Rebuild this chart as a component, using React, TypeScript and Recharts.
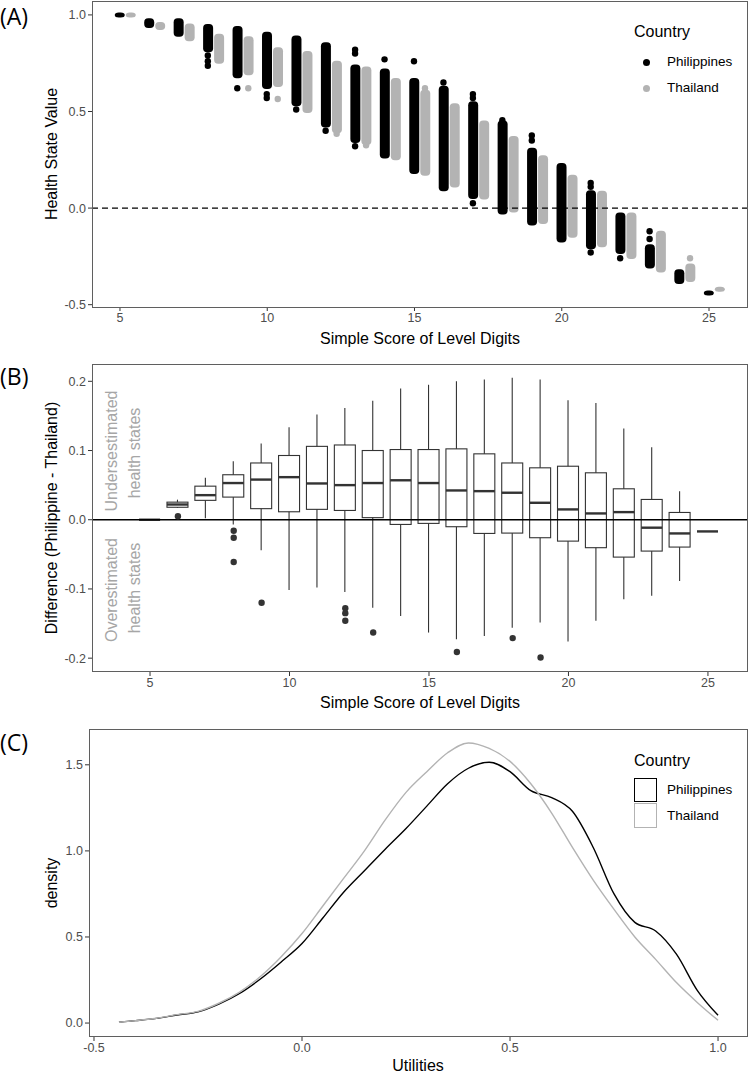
import React from "react";
import {
  ComposedChart,
  LineChart,
  Bar,
  Line,
  Scatter,
  XAxis,
  YAxis,
  ReferenceLine,
} from "recharts";

// ---- panel A: health state values by simple score (range of jittered points)
const scores = [5, 6, 7, 8, 9, 10, 11, 12, 13, 14, 15, 16, 17, 18, 19, 20, 21, 22, 23, 24, 25];
const phLo = [1.0, 0.945, 0.9, 0.82, 0.685, 0.63, 0.54, 0.43, 0.35, 0.27, 0.19, 0.1, 0.06, -0.02, -0.077, -0.165, -0.2, -0.225, -0.3, -0.38, -0.44];
const phHi = [1.0, 0.97, 0.97, 0.94, 0.93, 0.9, 0.88, 0.845, 0.73, 0.71, 0.66, 0.62, 0.54, 0.44, 0.3, 0.22, 0.08, -0.036, -0.2, -0.33, -0.44];
const thLo = [1.0, 0.935, 0.876, 0.76, 0.7, 0.64, 0.505, 0.4, 0.34, 0.26, 0.18, 0.12, 0.057, -0.01, -0.07, -0.14, -0.19, -0.25, -0.32, -0.37, -0.42];
const thHi = [1.0, 0.95, 0.943, 0.89, 0.876, 0.82, 0.8, 0.75, 0.72, 0.66, 0.6, 0.53, 0.44, 0.36, 0.26, 0.16, 0.077, -0.036, -0.13, -0.3, -0.42];
const phOutliers = [
  { score: 8, v: 0.79 }, { score: 8, v: 0.76 }, { score: 8, v: 0.737 },
  { score: 9, v: 0.62 }, { score: 10, v: 0.59 }, { score: 10, v: 0.57 },
  { score: 11, v: 0.51 }, { score: 12, v: 0.4 }, { score: 13, v: 0.82 },
  { score: 13, v: 0.8 }, { score: 13, v: 0.32 }, { score: 14, v: 0.77 },
  { score: 15, v: 0.76 }, { score: 16, v: 0.65 }, { score: 17, v: 0.59 },
  { score: 17, v: 0.57 }, { score: 17, v: 0.025 }, { score: 18, v: 0.455 },
  { score: 19, v: 0.376 }, { score: 19, v: 0.35 }, { score: 21, v: 0.13 },
  { score: 21, v: 0.11 }, { score: 21, v: -0.23 }, { score: 22, v: -0.26 },
  { score: 23, v: -0.12 }, { score: 23, v: -0.16 },
];
const thOutliers = [
  { score: 9, v: 0.62 }, { score: 10, v: 0.565 }, { score: 12, v: 0.385 },
  { score: 13, v: 0.325 }, { score: 15, v: 0.62 }, { score: 24, v: -0.26 },
];

// ---- panel B: boxplot of differences
const boxLo = [0, 0.017, 0.002, -0.007, -0.044, -0.1016, -0.098, -0.1045, -0.127, -0.139, -0.163, -0.1727, -0.168, -0.156, -0.1486, -0.176, -0.146, -0.115, -0.11, -0.0886, -0.0169];
const boxQ1 = [0, 0.018, 0.028, 0.0327, 0.016, 0.0115, 0.015, 0.0134, 0.003, -0.0068, -0.0053, -0.0101, -0.0198, -0.0193, -0.026, -0.0309, -0.0404, -0.054, -0.0453, -0.0395, -0.0169];
const boxMed = [0, 0.022, 0.0355, 0.053, 0.058, 0.0615, 0.0524, 0.05, 0.053, 0.057, 0.053, 0.0423, 0.0413, 0.039, 0.0245, 0.0149, 0.0091, 0.011, -0.0115, -0.0198, -0.0169];
const boxQ3 = [0, 0.0254, 0.0485, 0.065, 0.082, 0.0928, 0.106, 0.108, 0.1, 0.1014, 0.1014, 0.1024, 0.0952, 0.082, 0.075, 0.0773, 0.0678, 0.0447, 0.0293, 0.0105, -0.0169];
const boxHi = [0, 0.029, 0.0606, 0.0846, 0.11, 0.1336, 0.152, 0.1616, 0.172, 0.1895, 0.195, 0.2, 0.2025, 0.205, 0.2025, 0.1726, 0.1688, 0.1317, 0.1048, 0.0413, -0.0169];
const boxOutliers = [
  { score: 6, v: 0.005 }, { score: 8, v: -0.016 }, { score: 8, v: -0.026 },
  { score: 8, v: -0.061 }, { score: 9, v: -0.12 }, { score: 12, v: -0.128 },
  { score: 12, v: -0.135 }, { score: 12, v: -0.146 }, { score: 13, v: -0.163 },
  { score: 16, v: -0.191 }, { score: 18, v: -0.171 }, { score: 19, v: -0.199 },
];

// ---- panel C: density of utilities
const utilities = [-0.44, -0.4, -0.35, -0.3, -0.25, -0.2, -0.15, -0.1, -0.05, 0, 0.05, 0.1, 0.15, 0.2, 0.25, 0.3, 0.35, 0.4, 0.45, 0.5, 0.55, 0.6, 0.65, 0.7, 0.75, 0.8, 0.85, 0.9, 0.95, 1.0];
const densityPh = [0.005, 0.014, 0.027, 0.047, 0.065, 0.11, 0.172, 0.256, 0.355, 0.462, 0.61, 0.76, 0.885, 1.01, 1.13, 1.26, 1.39, 1.48, 1.515, 1.46, 1.35, 1.31, 1.23, 1.02, 0.75, 0.585, 0.535, 0.4, 0.19, 0.045];
const densityTh = [0.005, 0.014, 0.028, 0.049, 0.068, 0.115, 0.18, 0.27, 0.385, 0.52, 0.68, 0.84, 1.0, 1.18, 1.34, 1.46, 1.57, 1.627, 1.595, 1.52, 1.39, 1.22, 1.02, 0.83, 0.66, 0.5, 0.37, 0.235, 0.12, 0.016];

const scatterRows = scores.map((s, i) => ({
  score: s,
  phLo: phLo[i],
  phHi: phHi[i],
  thLo: thLo[i],
  thHi: thHi[i],
}));
const boxRows = scores.map((s, i) => ({
  score: s,
  lo: boxLo[i],
  q1: boxQ1[i],
  med: boxMed[i],
  q3: boxQ3[i],
  hi: boxHi[i],
}));
const densityRows = utilities.map((u, i) => ({ u, ph: densityPh[i], th: densityTh[i] }));

const GRAY = "#b3b3b3";
const FONT = '"Liberation Sans", Arial, sans-serif';
const tickStyle = { fill: "#4d4d4d", fontSize: 12.5 };
const fmt = (v: number) => v.toFixed(1);

// dense column of jittered points, drawn as a rounded strip
const columnShape = (fill: string) => (props: any) => {
  const { x, y, width, height } = props;
  const top = Math.min(y, y + height) - 2.5;
  const h = Math.abs(height) + 5;
  return <rect x={x + 5.5} y={top} width={width - 1} height={h} rx={4} ry={4} fill={fill} />;
};

const pointShape = (fill: string, dx: number) => (props: any) => (
  <circle cx={props.cx + dx} cy={props.cy} r={3.2} fill={fill} />
);

const BoxShape = (props: any) => {
  const { x, y, width, height, payload } = props;
  const top = Math.min(y, y + height);
  const bot = Math.max(y, y + height);
  const span = payload.hi - payload.lo;
  const cx = x + width / 2;
  if (!(span > 0)) {
    return <line x1={x} x2={x + width} y1={top} y2={top} stroke="#333" strokeWidth={2.4} />;
  }
  const toY = (v: number) => top + ((payload.hi - v) / span) * (bot - top);
  return (
    <g>
      <line x1={cx} x2={cx} y1={toY(payload.hi)} y2={toY(payload.lo)} stroke="#333" strokeWidth={1.1} />
      <rect
        x={x}
        y={toY(payload.q3)}
        width={width}
        height={toY(payload.q1) - toY(payload.q3)}
        fill="#fff"
        stroke="#333"
        strokeWidth={1.1}
      />
      <line x1={x} x2={x + width} y1={toY(payload.med)} y2={toY(payload.med)} stroke="#333" strokeWidth={2.4} />
    </g>
  );
};

const Text = ({ x, y, size = 16, color = "#000", rotate = false, children }: any) => (
  <div
    style={{
      position: "absolute",
      left: x,
      top: y,
      transform: `translate(-50%, -50%)${rotate ? " rotate(-90deg)" : ""}`,
      whiteSpace: "nowrap",
      fontSize: size,
      color,
      lineHeight: 1,
    }}
  >
    {children}
  </div>
);

const LeftText = ({ x, y, size = 14, children, font }: any) => (
  <div
    style={{
      position: "absolute",
      left: x,
      top: y,
      transform: "translateY(-50%)",
      whiteSpace: "nowrap",
      fontSize: size,
      lineHeight: 1,
      fontFamily: font,
    }}
  >
    {children}
  </div>
);

const Frame = ({ left, top, width, height }: any) => (
  <div
    style={{
      position: "absolute",
      left,
      top,
      width,
      height,
      border: "1px solid #5f5f5f",
      boxSizing: "border-box",
      pointerEvents: "none",
    }}
  />
);

export default function App() {
  return (
    <div
      style={{
        position: "absolute",
        left: 0,
        top: 0,
        width: 749,
        height: 1074,
        background: "#fff",
        fontFamily: FONT,
        overflow: "hidden",
      }}
    >
      {/* Panel A */}
      <div style={{ position: "absolute", left: 0, top: 0 }}>
        <ComposedChart
          width={749}
          height={345}
          data={scatterRows}
          margin={{ top: 1, right: 2, bottom: 8, left: 0 }}
          barGap={0}
        >
          <XAxis
            dataKey="score"
            type="number"
            domain={[4.05, 26.29]}
            ticks={[5, 10, 15, 20, 25]}
            allowDataOverflow
            height={30}
            axisLine={false}
            tickSize={4}
            tickMargin={2}
            tickLine={{ stroke: "#333" }}
            tick={tickStyle}
          />
          <YAxis
            type="number"
            domain={[-0.512, 1.072]}
            ticks={[-0.5, 0, 0.5, 1.0]}
            allowDataOverflow
            width={92}
            axisLine={false}
            tickSize={4}
            tickMargin={2}
            tickLine={{ stroke: "#333" }}
            tick={tickStyle}
            tickFormatter={fmt}
          />
          <Bar
            dataKey={(d: any) => [d.phLo, d.phHi]}
            barSize={11}
            fill="#000"
            shape={columnShape("#000")}
            isAnimationActive={false}
          />
          <Bar
            dataKey={(d: any) => [d.thLo, d.thHi]}
            barSize={11}
            fill={GRAY}
            shape={columnShape(GRAY)}
            isAnimationActive={false}
          />
          <Scatter data={phOutliers} dataKey="v" shape={pointShape("#000", -0.5)} isAnimationActive={false} />
          <Scatter data={thOutliers} dataKey="v" shape={pointShape(GRAY, 10.5)} isAnimationActive={false} />
          <ReferenceLine y={0} stroke="#000" strokeDasharray="6 4" strokeWidth={1.2} />
        </ComposedChart>
      </div>
      <Frame left={92} top={1} width={656} height={307} />
      <LeftText x={0} y={16} size={23} font='"Open Sans", sans-serif'>(A)</LeftText>
      <Text x={52} y={154} rotate>Health State Value</Text>
      <Text x={420} y={339}>Simple Score of Level Digits</Text>
      <LeftText x={634} y={32} size={16}>Country</LeftText>
      <div style={{ position: "absolute", left: 643, top: 59, width: 7, height: 7, borderRadius: 4, background: "#000" }} />
      <LeftText x={667} y={62} size={13.5}>Philippines</LeftText>
      <div style={{ position: "absolute", left: 643, top: 85, width: 7, height: 7, borderRadius: 4, background: GRAY }} />
      <LeftText x={667} y={88} size={13.5}>Thailand</LeftText>

      {/* Panel B */}
      <div style={{ position: "absolute", left: 0, top: 345 }}>
        <ComposedChart
          width={749}
          height={362}
          data={boxRows}
          margin={{ top: 19, right: 2, bottom: 5, left: 0 }}
        >
          <XAxis
            dataKey="score"
            type="number"
            domain={[2.92, 26.4]}
            ticks={[5, 10, 15, 20, 25]}
            allowDataOverflow
            height={30}
            axisLine={false}
            tickSize={4}
            tickMargin={2}
            tickLine={{ stroke: "#333" }}
            tick={tickStyle}
          />
          <YAxis
            type="number"
            domain={[-0.22, 0.225]}
            ticks={[-0.2, -0.1, 0, 0.1, 0.2]}
            allowDataOverflow
            width={92}
            axisLine={false}
            tickSize={4}
            tickMargin={2}
            tickLine={{ stroke: "#333" }}
            tick={tickStyle}
            tickFormatter={fmt}
          />
          <Bar
            dataKey={(d: any) => [d.lo, d.hi]}
            barSize={21}
            fill="#fff"
            shape={BoxShape}
            isAnimationActive={false}
          />
          <Scatter data={boxOutliers} dataKey="v" fill="#333" shape={pointShape("#333", 0)} isAnimationActive={false} />
          <ReferenceLine y={0} stroke="#000" strokeWidth={1.3} />
        </ComposedChart>
      </div>
      <Frame left={92} top={364} width={656} height={308} />
      <LeftText x={0} y={376} size={23} font='"Open Sans", sans-serif'>(B)</LeftText>
      <Text x={52} y={518} rotate>Difference (Philippine - Thailand)</Text>
      <Text x={420} y={703}>Simple Score of Level Digits</Text>
      <Text x={112} y={451} rotate color="#a6a6a6">Undersestimated</Text>
      <Text x={135} y={453} rotate color="#a6a6a6">health states</Text>
      <Text x={112} y={590} rotate color="#a6a6a6">Overestimated</Text>
      <Text x={135} y={588} rotate color="#a6a6a6">health states</Text>

      {/* Panel C */}
      <div style={{ position: "absolute", left: 0, top: 707 }}>
        <LineChart
          width={749}
          height={367}
          data={densityRows}
          margin={{ top: 22, right: 1, bottom: 7, left: 0 }}
        >
          <XAxis
            dataKey="u"
            type="number"
            domain={[-0.512, 1.072]}
            ticks={[-0.5, 0, 0.5, 1.0]}
            allowDataOverflow
            height={30}
            axisLine={false}
            tickSize={4}
            tickMargin={2}
            tickLine={{ stroke: "#333" }}
            tick={tickStyle}
            tickFormatter={fmt}
          />
          <YAxis
            type="number"
            domain={[-0.081, 1.708]}
            ticks={[0, 0.5, 1.0, 1.5]}
            allowDataOverflow
            width={89}
            axisLine={false}
            tickSize={4}
            tickMargin={2}
            tickLine={{ stroke: "#333" }}
            tick={tickStyle}
            tickFormatter={fmt}
          />
          <Line type="monotone" dataKey="ph" stroke="#000" strokeWidth={1.4} dot={false} isAnimationActive={false} />
          <Line type="monotone" dataKey="th" stroke={GRAY} strokeWidth={1.4} dot={false} isAnimationActive={false} />
        </LineChart>
      </div>
      <Frame left={89} top={729} width={659} height={308} />
      <LeftText x={0} y={742} size={23} font='"Open Sans", sans-serif'>(C)</LeftText>
      <Text x={52} y={883} rotate>density</Text>
      <Text x={418} y={1066}>Utilities</Text>
      <LeftText x={634} y={761} size={16}>Country</LeftText>
      <div style={{ position: "absolute", left: 634, top: 778, width: 23, height: 24, border: "1.5px solid #000", boxSizing: "border-box" }} />
      <LeftText x={667} y={790} size={13.5}>Philippines</LeftText>
      <div style={{ position: "absolute", left: 634, top: 803, width: 23, height: 25, border: "1.5px solid " + GRAY, boxSizing: "border-box" }} />
      <LeftText x={667} y={816} size={13.5}>Thailand</LeftText>
    </div>
  );
}
